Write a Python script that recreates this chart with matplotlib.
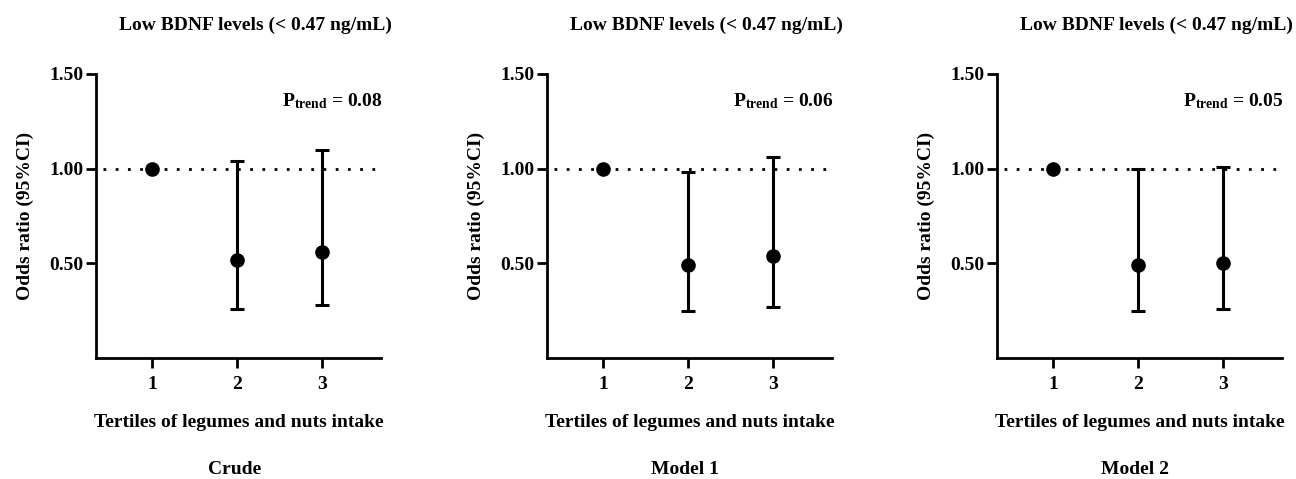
import matplotlib
matplotlib.use("Agg")
import matplotlib.pyplot as plt
import matplotlib.transforms as mtransforms

plt.rcParams['font.family'] = ['Liberation Serif', 'DejaVu Serif']
plt.rcParams['font.weight'] = 'bold'
plt.rcParams['mathtext.fontset'] = 'custom'
plt.rcParams['mathtext.rm'] = 'Liberation Serif:bold'
plt.rcParams['mathtext.bf'] = 'Liberation Serif:bold'
plt.rcParams['mathtext.it'] = 'Liberation Serif:bold'

tertiles = [1, 2, 3]
models = ["Crude", "Model 1", "Model 2"]
p_trend = ["0.08", "0.06", "0.05"]
or_crude = [1.00, 0.52, 0.56]
lo_crude = [1.00, 0.26, 0.28]
hi_crude = [1.00, 1.04, 1.10]
or_m1 = [1.00, 0.49, 0.54]
lo_m1 = [1.00, 0.25, 0.27]
hi_m1 = [1.00, 0.98, 1.06]
or_m2 = [1.00, 0.49, 0.50]
lo_m2 = [1.00, 0.25, 0.26]
hi_m2 = [1.00, 1.00, 1.01]
yticks = [0.50, 1.00, 1.50]
ytick_labels = ["0.50", "1.00", "1.50"]

title = "Low BDNF levels (< 0.47 ng/mL)"
xlabel = "Tertiles of legumes and nuts intake"
ylabel = "Odds ratio (95%CI)"

W, H = 1296, 479
fig = plt.figure(figsize=(W / 100, H / 100), dpi=100)

lefts = [96, 547, 997]
ax_w = 285
top_px, bot_px = 74, 358

data = [(or_crude, lo_crude, hi_crude), (or_m1, lo_m1, hi_m1), (or_m2, lo_m2, hi_m2)]

for i, (l, (orv, lo, hi)) in enumerate(zip(lefts, data)):
    ax = fig.add_axes([l / W, 1 - bot_px / H, ax_w / W, (bot_px - top_px) / H])
    ax.set_xlim(0.34, 3.69)
    ax.set_ylim(0, 1.5)
    ax.axhline(1.0, xmin=0.025, xmax=0.99, color='black', lw=2, linestyle=(0, (1, 3.4)), zorder=1)
    yerr = [[o - a for o, a in zip(orv, lo)], [b - o for o, b in zip(orv, hi)]]
    ax.errorbar(tertiles[1:], orv[1:], yerr=[yerr[0][1:], yerr[1][1:]], fmt='o', color='black',
                ms=9.5, elinewidth=2.2, capsize=4.8, capthick=2.2, zorder=3)
    ax.plot(tertiles[:1], orv[:1], 'o', color='black', ms=9.5, zorder=3)
    for s in ['top', 'right']:
        ax.spines[s].set_visible(False)
    for s in ['left', 'bottom']:
        ax.spines[s].set_linewidth(2)
    ax.set_xticks(tertiles)
    ax.set_xticklabels([str(t) for t in tertiles], fontsize=14, fontweight='bold')
    ax.set_yticks(yticks)
    ax.set_yticklabels(ytick_labels, fontsize=14, fontweight='bold')
    ax.tick_params(axis='both', width=2, length=7, direction='out')
    ax.tick_params(axis='x', pad=6)
    ax.tick_params(axis='y', pad=2)
    ax.set_ylabel(ylabel, fontsize=14, fontweight='bold', labelpad=11)
    ax.set_xlabel(xlabel, fontsize=14, fontweight='bold', labelpad=15)
    tr = mtransforms.blended_transform_factory(ax.transAxes, fig.transFigure)
    ax.text(0.558, (H - 25) / H, title, transform=tr,
            ha='center', va='center', fontsize=14, fontweight='bold')
    ax.text(0.485, (H - 469) / H, models[i], transform=tr,
            ha='center', va='center', fontsize=14, fontweight='bold')
    ax.text(1.005, 1 - (101 - top_px) / (bot_px - top_px), r'$\mathrm{P_{trend}}$ = ' + p_trend[i],
            transform=ax.transAxes, ha='right', va='center', fontsize=14, fontweight='bold')

fig.savefig("out.png", dpi=100)
